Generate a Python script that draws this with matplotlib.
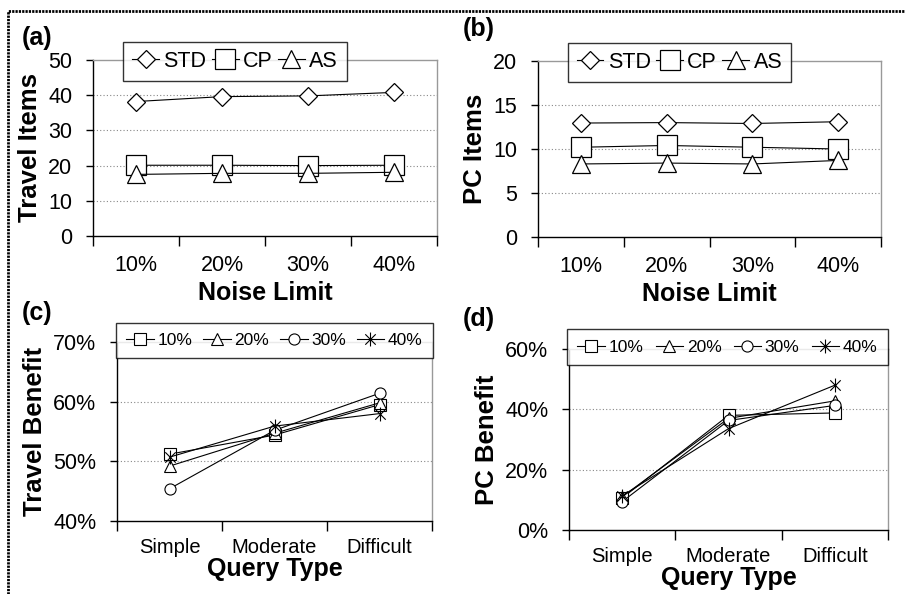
import matplotlib
matplotlib.use('Agg')
import matplotlib.pyplot as plt
from matplotlib.path import Path
from matplotlib.lines import Line2D
from matplotlib.ticker import FuncFormatter

plt.rcParams['font.family'] = ['Liberation Sans', 'DejaVu Sans']

# noise limit experiments
noise = ['10%', '20%', '30%', '40%']
travel_std = [38.2, 39.6, 39.8, 40.8]
travel_cp = [20.1, 20.1, 20.0, 20.1]
travel_as = [17.5, 17.8, 17.8, 18.1]
pc_std = [12.95, 13.0, 12.9, 13.1]
pc_cp = [10.2, 10.4, 10.2, 10.0]
pc_as = [8.3, 8.4, 8.3, 8.7]

# benefit per query type, in percent
queries = ['Simple', 'Moderate', 'Difficult']
travel_ben_10 = [51.2, 54.4, 59.5]
travel_ben_20 = [49.2, 54.7, 59.8]
travel_ben_30 = [45.4, 55.2, 61.4]
travel_ben_40 = [50.7, 55.9, 58.0]
pc_ben_10 = [10.6, 38.0, 38.8]
pc_ben_20 = [11.0, 37.0, 42.8]
pc_ben_30 = [9.4, 36.3, 41.3]
pc_ben_40 = [11.3, 33.6, 48.0]

W, H = 905, 594
fig = plt.figure(figsize=(W / 100, H / 100), dpi=100)

# asterisk marker: vertical bar plus an x
star = Path([(0, -1), (0, 1), (-0.75, -0.75), (0.75, 0.75), (-0.75, 0.75), (0.75, -0.75)],
            [Path.MOVETO, Path.LINETO, Path.MOVETO, Path.LINETO, Path.MOVETO, Path.LINETO])


def px_axes(left, top, right, bottom):
    return fig.add_axes([left / W, 1 - bottom / H, (right - left) / W, (bottom - top) / H])


def style(ax, cats, ylim, yticks, pct, xlabel, ylabel, tickpad, xpad, ylpad):
    n = len(cats)
    ax.set_xlim(0, n)
    ax.set_ylim(*ylim)
    ax.set_xticks(range(n + 1))
    ax.set_xticklabels([])
    ax.set_xticks([i + 0.5 for i in range(n)], minor=True)
    ax.set_xticklabels(cats, minor=True, fontsize=14.5 if pct else 15.5)
    ax.tick_params(axis='x', which='major', length=7, width=1, direction='out')
    ax.tick_params(axis='x', which='minor', length=0, pad=tickpad)
    ax.set_yticks(yticks)
    if pct:
        ax.yaxis.set_major_formatter(FuncFormatter(lambda v, p: '%d%%' % v))
    ax.tick_params(axis='y', length=5, width=1, pad=10, labelsize=15.5)
    for s in ['left', 'bottom']:
        ax.spines[s].set_color('black')
        ax.spines[s].set_linewidth(1)
    for s in ['top', 'right']:
        ax.spines[s].set_color('#999999')
        ax.spines[s].set_linewidth(1)
    for y in yticks[1:-1]:
        ax.axhline(y, color='#888888', lw=0.8, ls=(0, (1, 2)), zorder=0)
    ax.set_xlabel(xlabel, fontsize=18, fontweight='bold', labelpad=xpad)
    ax.set_ylabel(ylabel, fontsize=18.5, fontweight='bold', labelpad=ylpad)


def draw_items(ax, std, cp, as_):
    x = [i + 0.5 for i in range(len(noise))]
    kw = dict(color='black', lw=0.8, mfc='white', mec='black', mew=0.9)
    ax.plot(x, std, marker='D', ms=8.7, label='STD', **kw)
    ax.plot(x, cp, marker='s', ms=14, label='CP', **kw)
    ax.plot(x, as_, marker='^', ms=12.5, label='AS', **kw)


def draw_benefit(ax, b10, b20, b30, b40):
    x = [i + 0.5 for i in range(len(queries))]
    kw = dict(color='black', lw=0.8, mfc='white', mec='black', mew=0.8)
    ax.plot(x, b10, marker='s', ms=8, label='10%', **kw)
    ax.plot(x, b20, marker='^', ms=8, label='20%', **kw)
    ax.plot(x, b30, marker='o', ms=8, label='30%', **kw)
    ax.plot(x, b40, marker=star, ms=10, label='40%', **kw)


def legend_box(ax, left, top, right, bottom, fontsize, expand, hl, bpad, cs):
    bbox = (left / W, 1 - bottom / H, (right - left) / W, (bottom - top) / H)
    leg = ax.legend(loc='center', bbox_to_anchor=bbox, bbox_transform=fig.transFigure,
                    ncol=4, mode='expand' if expand else None, fontsize=fontsize,
                    frameon=True, fancybox=False, borderpad=bpad, handlelength=hl,
                    handletextpad=0.2, columnspacing=cs, borderaxespad=0)
    leg.get_frame().set_edgecolor('black')
    leg.get_frame().set_linewidth(1)
    leg.set_zorder(10)
    return leg


# (a) travel items
ax_a = px_axes(93, 60, 437, 236)
draw_items(ax_a, travel_std, travel_cp, travel_as)
style(ax_a, noise, (0, 50), [0, 10, 20, 30, 40, 50], False, 'Noise Limit', 'Travel Items', 14, 3, 4)
legend_box(ax_a, 122, 45, 348, 78, 15.5, False, 1.25, 0.4, 0.25)

# (b) pc items
ax_b = px_axes(538, 61, 881, 237)
draw_items(ax_b, pc_std, pc_cp, pc_as)
style(ax_b, noise, (0, 20), [0, 5, 10, 15, 20], False, 'Noise Limit', 'PC Items', 14, 3, 4)
legend_box(ax_b, 567, 46, 792, 79, 15.5, False, 1.25, 0.4, 0.25)

# (c) travel benefit
ax_c = px_axes(117, 342, 432, 521)
draw_benefit(ax_c, travel_ben_10, travel_ben_20, travel_ben_30, travel_ben_40)
style(ax_c, queries, (40, 70), [40, 50, 60, 70], True, 'Query Type', 'Travel Benefit', 12, 0, 4)
legend_box(ax_c, 116, 324, 433, 357, 12.5, True, 1.6, 0.6, 0.4)

# (d) pc benefit
ax_d = px_axes(569, 349, 888, 530)
draw_benefit(ax_d, pc_ben_10, pc_ben_20, pc_ben_30, pc_ben_40)
style(ax_d, queries, (0, 60), [0, 20, 40, 60], True, 'Query Type', 'PC Benefit', 12, 0, 4)
legend_box(ax_d, 567, 331, 888, 363, 12.5, True, 1.6, 0.6, 0.4)

# panel tags
for tag, x, y in [('(a)', 22, 26), ('(b)', 463, 17), ('(c)', 22, 301), ('(d)', 463, 307)]:
    fig.text(x / W, 1 - y / H, tag, fontsize=18, fontweight='bold', ha='left', va='top')

# dotted frame round the figure
fig.add_artist(Line2D([8 / W, 8 / W, 1.0], [0.0, 1 - 11 / H, 1 - 11 / H],
                      transform=fig.transFigure, color='black', lw=2.0,
                      ls=(0, (0.8, 0.4)), solid_capstyle='butt'))

fig.savefig('out.png', dpi=100)
